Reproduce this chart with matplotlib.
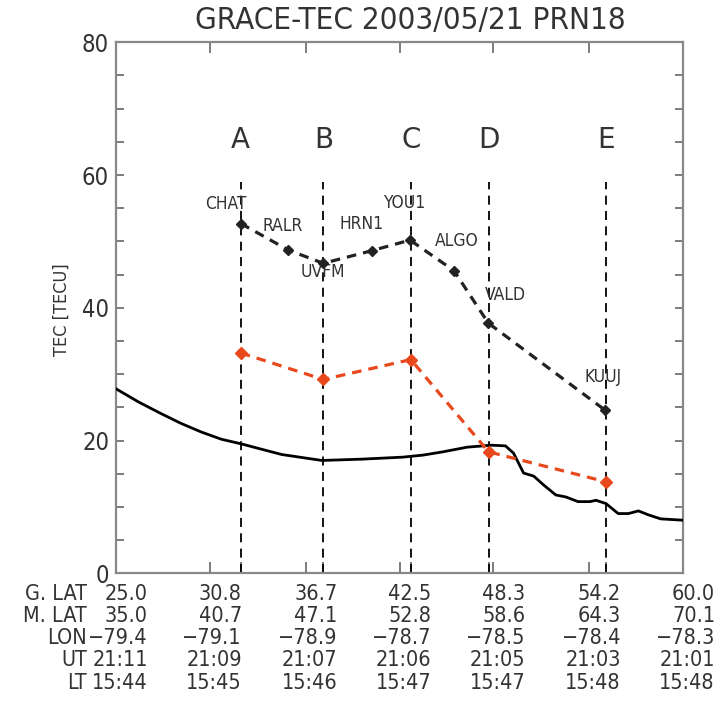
import matplotlib
matplotlib.use("Agg")
import matplotlib.pyplot as plt
from matplotlib import transforms

# ---- data ----
glat = ["25.0", "30.8", "36.7", "42.5", "48.3", "54.2", "60.0"]
mlat = ["35.0", "40.7", "47.1", "52.8", "58.6", "64.3", "70.1"]
lon = ["\u221279.4", "\u221279.1", "\u221278.9", "\u221278.7", "\u221278.5", "\u221278.4", "\u221278.3"]
ut = ["21:11", "21:09", "21:07", "21:06", "21:05", "21:03", "21:01"]
lt = ["15:44", "15:45", "15:46", "15:47", "15:47", "15:48", "15:48"]
row_names = ["G. LAT", "M. LAT", "LON", "UT", "LT"]

# GRACE TEC along the track (black solid)
grace_lat = [25.0, 26.4, 27.75, 29.0, 30.25, 31.5, 32.73, 35.22, 37.71, 40.2, 42.7,
             43.93, 45.18, 46.67, 48.17, 49.04, 49.54, 50.16, 50.78, 51.4, 52.15,
             52.77, 53.52, 54.26, 54.63, 55.25, 56.0, 56.63, 57.25, 57.87, 58.62, 60.0]
grace_tec = [27.8, 25.8, 24.1, 22.6, 21.3, 20.2, 19.5, 17.9, 17.0, 17.2, 17.5,
             17.8, 18.3, 19.0, 19.3, 19.2, 18.1, 15.1, 14.65, 13.3, 11.8,
             11.5, 10.8, 10.8, 11.0, 10.5, 9.0, 9.0, 9.4, 8.8, 8.2, 8.0]

# ground GPS stations (black dashed with diamonds)
stations = ["CHAT", "RALR", "UVFM", "HRN1", "YOU1", "ALGO", "VALD", "KUUJ"]
sta_lat = [32.70, 35.64, 37.80, 40.78, 43.15, 45.86, 47.98, 55.18]
sta_tec = [52.7, 48.7, 46.7, 48.6, 50.2, 45.6, 37.7, 24.6]

# points A-E (red dashed)
points = ["A", "B", "C", "D", "E"]
pt_lat = [32.70, 37.80, 43.20, 48.00, 55.22]
pt_tec = [33.2, 29.2, 32.2, 18.3, 13.8]

txt = "#333333"
red = "#e8481c"
cond = dict(family="DejaVu Sans", stretch="condensed")

fig = plt.figure(figsize=(7.17, 7.12), dpi=100)
ax = fig.add_axes([116 / 717, 1 - 573.3 / 712, 567 / 717, 531 / 712])

ax.plot(grace_lat, grace_tec, color="black", lw=2.0, zorder=3)
ax.plot(sta_lat, sta_tec, color="#222222", lw=2.3, ls=(0, (3, 2.2)), marker="D",
        ms=5.5, mfc="#222222", mec="#222222", zorder=4)
ax.plot(pt_lat, pt_tec, color=red, lw=2.3, ls=(0, (3, 2.2)), marker="D",
        ms=6.5, mfc=red, mec=red, zorder=4)

for x, name in zip(pt_lat, points):
    ax.plot([x, x], [0, 59], color="black", lw=1.3, ls=(0, (5, 3.5)), zorder=2)
    ax.text(x, 65.3, name, ha="center", va="center", fontsize=20,
            family="DejaVu Sans", color=txt)

offsets = [(-11, 14), (-4, 17), (0, -6), (-7, 19), (-4, 27), (2, 21), (12, 20), (-1, 24)]
for x, y, name, off in zip(sta_lat, sta_tec, stations, offsets):
    ax.annotate(name, (x, y), xytext=off, textcoords="offset points",
                ha="center", va="center", fontsize=12.5, color=txt, **cond)

ax.set_xlim(25, 60)
ax.set_ylim(0, 80)
xt = [float(v) for v in glat]
ax.set_xticks(xt)
ax.set_xticklabels([])
ax.set_xticks(pt_lat, minor=True)
ax.set_yticks([0, 20, 40, 60, 80])
ax.set_yticks(range(0, 81, 5), minor=True)
ax.tick_params(axis="x", which="major", direction="in", top=True, bottom=True, length=8,
               width=1.2, color="#666666")
ax.tick_params(axis="x", which="minor", direction="in", top=False, bottom=True, length=8,
               width=1.2, color="#666666")
ax.tick_params(axis="y", which="both", direction="in", left=True, right=True, length=6,
               width=1.2, color="#666666", labelsize=17, labelcolor=txt, pad=5)
for lab in ax.get_yticklabels():
    lab.set_family("DejaVu Sans")
    lab.set_stretch("condensed")
for s in ax.spines.values():
    s.set_color("#888888")
    s.set_linewidth(1.6)

# table under the axis
rows = [glat, mlat, lon, ut, lt]
row_y = [594, 616, 638, 660, 683]
val_tr = transforms.offset_copy(ax.get_xaxis_transform(), fig, x=32 * 0.72, y=0, units="points")
lab_tr = transforms.blended_transform_factory(fig.transFigure, ax.transAxes)
for name, vals, yp in zip(row_names, rows, row_y):
    ya = (573.3 - yp) / 531
    fig.text(87 / 717, ya, name, transform=lab_tr, ha="right", va="center",
             fontsize=15.5, color=txt, **cond)
    for x, v in zip(xt, vals):
        ax.text(x, ya, v, transform=val_tr, ha="right", va="center",
                fontsize=15.5, color=txt, clip_on=False, **cond)

fig.text(62 / 717, 1 - 310 / 712, "TEC [TECU]", rotation=90, ha="center", va="center",
         fontsize=13, color=txt, **cond)
fig.text(410 / 717, 1 - 20 / 712, "GRACE-TEC 2003/05/21 PRN18", ha="center", va="center",
         fontsize=22.5, color=txt, **cond)

fig.savefig("out.png", dpi=100)
